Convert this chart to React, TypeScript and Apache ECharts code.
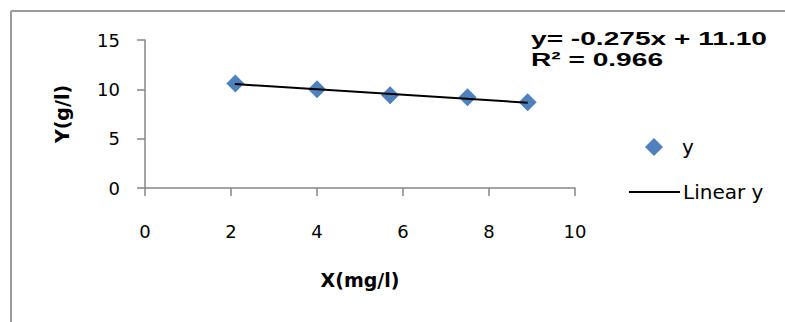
import React, { useEffect, useRef } from "react";
import * as echarts from "echarts";

const seriesName = "y";
const trendName = "Linear y";
const xValues = [2.1, 4.0, 5.7, 7.5, 8.9];
const yValues = [10.6, 10.0, 9.4, 9.2, 8.7];
const trendX = [2.09, 8.9];
const trendY = [10.53, 8.65];
const equationLines = ["y= -0.275x + 11.10", "R² = 0.966"];
const xAxisName = "X(mg/l)";
const yAxisName = "Y(g/l)";

export default function App() {
  const ref = useRef<HTMLDivElement>(null);
  useEffect(() => {
    if (!ref.current) return;
    const chart = echarts.init(ref.current, null, { renderer: "svg" });
    const font = "'DejaVu Sans', 'Noto Sans', sans-serif";
    const axisColor = "#868686";
    const eqFont = "bold 19px 'Liberation Sans', Arial, sans-serif";
    chart.setOption({
      animation: false,
      backgroundColor: "#ffffff",
      textStyle: { fontFamily: font },
      grid: { left: 145, right: 210, top: 40, bottom: 134, containLabel: false },
      xAxis: {
        type: "value",
        min: 0,
        max: 10,
        interval: 2,
        name: xAxisName,
        nameLocation: "middle",
        nameGap: 82,
        nameTextStyle: { fontFamily: font, fontWeight: "bold", fontSize: 19, color: "#000" },
        axisLine: { show: true, onZero: false, lineStyle: { color: axisColor, width: 1.5 } },
        axisTick: { show: true, length: 8, lineStyle: { color: axisColor, width: 1.5 } },
        axisLabel: { margin: 34, fontSize: 18, color: "#000", fontFamily: font },
        splitLine: { show: false },
      },
      yAxis: {
        type: "value",
        min: 0,
        max: 15,
        interval: 5,
        name: yAxisName,
        nameLocation: "middle",
        nameGap: 74,
        nameRotate: 90,
        nameTextStyle: { fontFamily: font, fontWeight: "bold", fontSize: 19, color: "#000" },
        axisLine: { show: true, lineStyle: { color: axisColor, width: 1.5 } },
        axisTick: { show: true, length: 8, lineStyle: { color: axisColor, width: 1.5 } },
        axisLabel: { margin: 25, fontSize: 18, color: "#000", fontFamily: font },
        splitLine: { show: false },
      },
      legend: [
        {
          data: [{ name: seriesName, icon: "diamond" }],
          left: 645,
          top: 137,
          padding: 0,
          itemWidth: 18,
          itemHeight: 18,
          itemGap: 0,
          textStyle: { fontSize: 20, color: "#000", fontFamily: font, padding: [0, 0, 0, 14] },
        },
        {
          data: [{ name: trendName, icon: "rect" }],
          left: 629,
          top: 182,
          padding: 0,
          itemWidth: 51,
          itemHeight: 2,
          itemStyle: { color: "#000000" },
          textStyle: { fontSize: 20, color: "#000", fontFamily: font, padding: [0, 0, 0, -2] },
        },
      ],
      series: [
        {
          name: seriesName,
          type: "scatter",
          symbol: "diamond",
          symbolSize: 18,
          itemStyle: { color: "#4F81BD", opacity: 1 },
          data: xValues.map((x, i) => [x, yValues[i]]),
          z: 2,
        },
        {
          name: trendName,
          type: "line",
          symbol: "none",
          itemStyle: { color: "#000000" },
          lineStyle: { color: "#000000", width: 2 },
          data: trendX.map((x, i) => [x, trendY[i]]),
          z: 3,
        },
      ],
      graphic: [
        {
          type: "line",
          shape: { x1: 11, y1: 11, x2: 785, y2: 11 },
          style: { stroke: "#9a9a9a", lineWidth: 2 },
        },
        {
          type: "line",
          shape: { x1: 11, y1: 11, x2: 11, y2: 322 },
          style: { stroke: "#9a9a9a", lineWidth: 2 },
        },
        {
          type: "text",
          x: 531,
          y: 38,
          scaleX: 1.48,
          style: {
            text: equationLines[0],
            font: eqFont,
            fill: "#000",
            verticalAlign: "middle",
          },
        },
        {
          type: "text",
          x: 531,
          y: 59,
          scaleX: 1.48,
          style: {
            text: equationLines[1],
            font: eqFont,
            fill: "#000",
            verticalAlign: "middle",
          },
        },
      ],
    });
    return () => chart.dispose();
  }, []);
  return (
    <div
      ref={ref}
      style={{ position: "fixed", left: 0, top: 0, width: 785, height: 322 }}
    />
  );
}
